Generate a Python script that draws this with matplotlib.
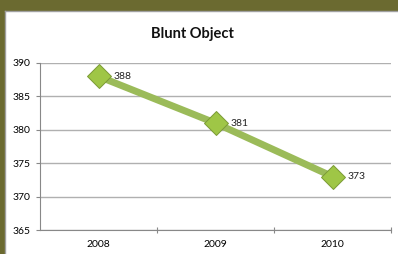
import matplotlib.pyplot as plt
from matplotlib.patches import Rectangle
from matplotlib.lines import Line2D

# data
years = ['2008', '2009', '2010']
values = [388, 381, 373]
y_ticks = [365, 370, 375, 380, 385, 390]

plt.rcParams['font.family'] = ['Lato', 'DejaVu Sans']

fig = plt.figure(figsize=(3.98, 2.54), dpi=100)
fig.patch.set_facecolor('white')

# olive frame on top and left
olive = '#6b6a30'
fig.patches.append(Rectangle((0, 1 - 10 / 254), 1, 10 / 254, transform=fig.transFigure,
                             color=olive, zorder=0))
fig.patches.append(Rectangle((0, 0), 4 / 398, 1, transform=fig.transFigure,
                             color=olive, zorder=0))
fig.lines.append(Line2D([4.5 / 398, 4.5 / 398], [0, 1 - 10.5 / 254], transform=fig.transFigure,
                        color='#a0a0a0', linewidth=1))
fig.lines.append(Line2D([4.5 / 398, 1], [1 - 10.5 / 254, 1 - 10.5 / 254], transform=fig.transFigure,
                        color='#a0a0a0', linewidth=1))

# plot area: x 40..391, y 63..230 (pixels)
ax = fig.add_axes([40 / 398, 1 - 230 / 254, 351 / 398, 167 / 254])
x = range(len(years))
ax.plot(x, values, color='#9bbb59', linewidth=5, solid_capstyle='butt', zorder=3)
ax.plot(x, values, linestyle='none', marker='D', markersize=12,
        markerfacecolor='#9fc646', markeredgecolor='#7a9a35', markeredgewidth=0.7, zorder=4)
for xi, v in zip(x, values):
    ax.annotate(str(v), (xi, v), xytext=(11, 0), textcoords='offset points',
                ha='left', va='center', fontsize=7.5, color='#222222', zorder=5)

ax.set_xlim(-0.5, 2.5)
ax.set_ylim(365, 390)
ax.set_yticks(y_ticks)
ax.set_xticks([0.5, 1.5, 2.5], minor=False)
ax.set_xticklabels([])
ax.set_xticks(list(x), minor=True)
ax.set_xticklabels(years, minor=True)
ax.tick_params(axis='x', which='minor', length=0, labelsize=7.5, pad=7)
ax.tick_params(axis='x', which='major', length=4, direction='inout', color='#888888')
ax.tick_params(axis='y', length=3, labelsize=7.5, color='#888888', pad=4)

ax.grid(axis='y', color='#b0b0b0', linewidth=1)
ax.set_axisbelow(True)
for s in ['top', 'right']:
    ax.spines[s].set_visible(False)
ax.spines['left'].set_color('#888888')
ax.spines['bottom'].set_color('#888888')

fig.text(192 / 398, 1 - 34 / 254, 'Blunt Object', ha='center', va='center',
         fontsize=10.5, fontweight='bold', color='#111111')

fig.savefig('out.png', dpi=100)
